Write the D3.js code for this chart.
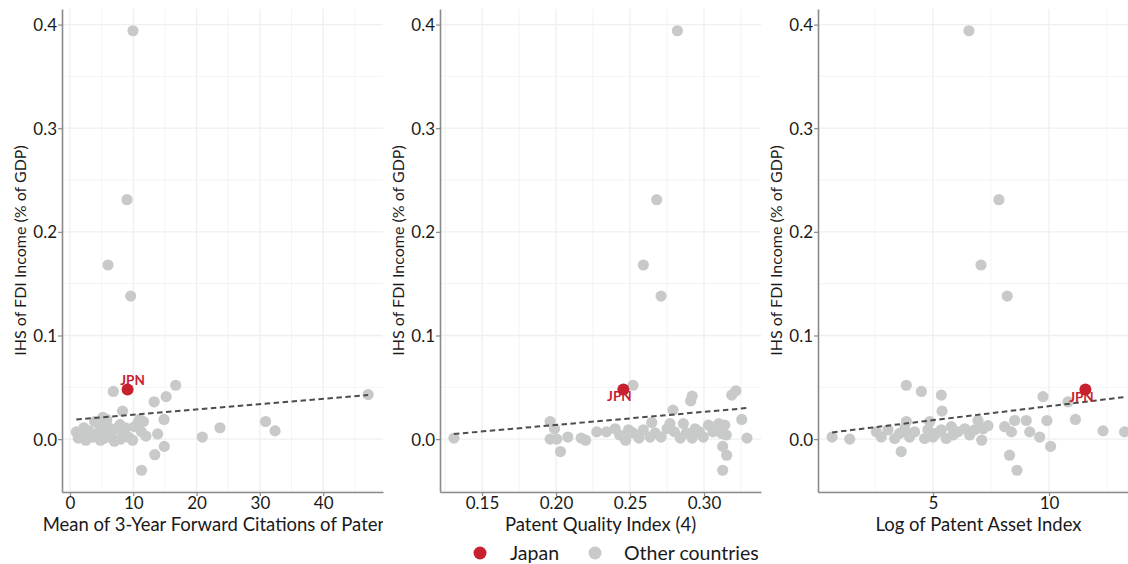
<!DOCTYPE html>
<html>
<head>
<meta charset="utf-8">
<script src="https://cdn.jsdelivr.net/npm/d3@7"></script>
<style>
  html, body { margin: 0; padding: 0; background: #fff; }
  svg { display: block; font-family: Lato, "Open Sans", sans-serif; }
</style>
</head>
<body>
<svg id="chart" width="1128" height="564"></svg>
<script>
// FDI income (IHS, % of GDP) against three patent measures, one panel each.
// Each pair is [patent measure, IHS of FDI income].

const citationsOther = [
  [9.95, 0.394], [9.0, 0.231], [6.0, 0.168], [9.6, 0.138],
  [6.85, 0.046], [16.7, 0.052], [15.2, 0.041], [13.3, 0.036], [8.3, 0.027],
  [14.85, 0.019], [5.2, 0.021], [13.85, 0.005], [14.9, -0.007], [13.4, -0.015],
  [11.3, -0.030], [20.9, 0.002], [23.7, 0.011], [30.9, 0.017], [32.4, 0.008],
  [47.1, 0.043],
  [1.0, 0.007], [1.3, 0.001], [2.0, 0.004], [2.5, -0.001], [3.0, 0.008],
  [3.6, 0.002], [4.2, 0.005], [4.6, 0.014], [5.1, 0.009], [5.5, 0.001],
  [6.0, 0.012], [6.5, 0.004], [7.0, -0.002], [7.3, 0.010], [7.9, 0.014],
  [8.4, 0.006], [8.8, 0.011], [9.2, 0.002], [9.9, -0.001], [10.2, 0.012],
  [10.8, 0.016], [11.3, 0.007], [11.6, 0.017], [12.0, 0.003], [11.0, 0.019],
  [3.9, 0.017], [5.8, 0.019], [2.2, 0.011], [4.8, -0.001], [8.0, 0.000]
];
const citationsJapan = [9.1, 0.048];
const citationsFit = [[1.0, 0.019], [47.1, 0.0425]];

const qualityOther = [
  [0.282, 0.394], [0.268, 0.231], [0.259, 0.168], [0.271, 0.138],
  [0.131, 0.001], [0.196, 0.017], [0.199, 0.010], [0.196, 0.000], [0.2005, 0.000],
  [0.203, -0.012], [0.208, 0.002], [0.217, 0.001], [0.220, -0.001], [0.2275, 0.007],
  [0.252, 0.052], [0.292, 0.0415], [0.291, 0.037], [0.3216, 0.0467], [0.3187, 0.0425],
  [0.279, 0.028], [0.3255, 0.019], [0.329, 0.001], [0.3126, -0.007], [0.3153, -0.0155],
  [0.3126, -0.030], [0.2647, 0.016],
  [0.234, 0.007], [0.240, 0.010], [0.243, 0.004], [0.247, -0.001], [0.249, 0.009],
  [0.252, 0.006], [0.256, 0.001], [0.259, 0.009], [0.2635, 0.002], [0.267, 0.006],
  [0.271, 0.002], [0.275, 0.010], [0.277, 0.015], [0.280, 0.007], [0.284, 0.001],
  [0.286, 0.015], [0.288, 0.006], [0.292, 0.001], [0.294, 0.010], [0.297, 0.007],
  [0.2995, 0.002], [0.303, 0.0135], [0.306, 0.007], [0.310, 0.015], [0.312, 0.0055],
  [0.314, 0.0135], [0.315, 0.004]
];
const qualityJapan = [0.2455, 0.048];
const qualityFit = [[0.131, 0.005], [0.329, 0.030]];

const assetOther = [
  [6.55, 0.394], [7.84, 0.231], [7.07, 0.168], [8.2, 0.138],
  [0.65, 0.002], [1.41, 0.000], [3.85, 0.052], [4.50, 0.046], [5.36, 0.0425],
  [5.39, 0.027], [3.63, -0.012], [3.85, 0.017], [4.86, 0.017], [9.74, 0.041],
  [10.82, 0.036], [11.14, 0.019], [12.33, 0.008], [13.26, 0.007], [10.07, -0.007],
  [8.30, -0.0155], [8.62, -0.030],
  [2.56, 0.007], [2.77, 0.002], [3.06, 0.009], [3.35, 0.0006], [3.56, 0.0055],
  [3.78, 0.010], [3.99, 0.002], [4.21, 0.007], [4.64, 0.0006], [4.78, 0.009],
  [5.0, 0.002], [5.14, 0.0055], [5.36, 0.009], [5.57, 0.0006], [5.79, 0.012],
  [5.86, 0.004], [6.08, 0.007], [6.37, 0.010], [6.58, 0.004], [6.80, 0.009],
  [6.94, 0.018], [7.1, -0.001], [7.16, 0.010], [7.37, 0.013], [8.09, 0.012],
  [8.38, 0.007], [8.52, 0.018], [9.02, 0.018], [9.17, 0.007], [9.6, 0.002],
  [9.91, 0.018]
];
const assetJapan = [11.57, 0.048];
const assetFit = [[0.65, 0.0065], [13.26, 0.0406]];

const xTitles = [
  "Mean of 3-Year Forward Citations of Patents",
  "Patent Quality Index (4)",
  "Log of Patent Asset Index"
];
const yTitle = "IHS of FDI Income (% of GDP)";
const yTicks = [0.0, 0.1, 0.2, 0.3, 0.4];
const yMinor = [-0.05, 0.05, 0.15, 0.25, 0.35];
const citationsTicks = [0, 10, 20, 30, 40];
const citationsMinor = [5, 15, 25, 35, 45];
const qualityTicks = [0.15, 0.20, 0.25, 0.30];
const qualityMinor = [0.125, 0.175, 0.225, 0.275, 0.325];
const assetTicks = [5, 10];
const assetMinor = [2.5, 7.5, 12.5];
const legendLabels = ["Japan", "Other countries"];

const RED = "#c8202f";
const GREY = "#c7cac9";
const AXIS = "#8a8a8a";
const GRID = "#efefef";
const TEXT = "#1a1a1a";

const svg = d3.select("#chart");
const plotTop = 9, plotBottom = 492;

const panels = [
  { left: 62, right: 383, domain: [-1.26, 49.45], ticks: citationsTicks, minor: citationsMinor,
    fmt: d3.format("d"), other: citationsOther, japan: citationsJapan, fit: citationsFit,
    labelDx: 5, labelDy: -4, clipRight: 383 },
  { left: 440, right: 761, domain: [0.1216, 0.3385], ticks: qualityTicks, minor: qualityMinor,
    fmt: d3.format(".2f"), other: qualityOther, japan: qualityJapan, fit: qualityFit,
    labelDx: -4, labelDy: 12, clipRight: 766 },
  { left: 818, right: 1139, domain: [0.043, 13.88], ticks: assetTicks, minor: assetMinor,
    fmt: d3.format("d"), other: assetOther, japan: assetJapan, fit: assetFit,
    labelDx: -4, labelDy: 13, clipRight: 1128 }
];

const defs = svg.append("defs");

panels.forEach((p, i) => {
  const x = d3.scaleLinear().domain(p.domain).range([p.left, p.right]);
  const y = d3.scaleLinear().domain([-0.051, 0.415]).range([plotBottom, plotTop]);
  const g = svg.append("g");

  // grid: minor then major
  const grid = g.append("g");
  grid.selectAll(".hmin").data(yMinor).join("line")
    .attr("x1", p.left).attr("x2", p.right)
    .attr("y1", d => y(d)).attr("y2", d => y(d))
    .attr("stroke", GRID).attr("stroke-width", 0.7);
  grid.selectAll(".vmin").data(p.minor.filter(d => x(d) > p.left && x(d) < p.right)).join("line")
    .attr("x1", d => x(d)).attr("x2", d => x(d))
    .attr("y1", plotTop).attr("y2", plotBottom)
    .attr("stroke", GRID).attr("stroke-width", 0.7);
  grid.selectAll(".hmaj").data(yTicks).join("line")
    .attr("x1", p.left).attr("x2", p.right)
    .attr("y1", d => y(d)).attr("y2", d => y(d))
    .attr("stroke", GRID).attr("stroke-width", 1.3);
  grid.selectAll(".vmaj").data(p.ticks).join("line")
    .attr("x1", d => x(d)).attr("x2", d => x(d))
    .attr("y1", plotTop).attr("y2", plotBottom)
    .attr("stroke", GRID).attr("stroke-width", 1.3);

  // axes
  const yAxis = g.append("g").attr("transform", `translate(${p.left},0)`)
    .call(d3.axisLeft(y).tickValues(yTicks).tickFormat(d3.format(".1f")).tickSize(4).tickSizeOuter(0));
  const xAxis = g.append("g").attr("transform", `translate(0,${plotBottom})`)
    .call(d3.axisBottom(x).tickValues(p.ticks).tickFormat(p.fmt).tickSize(4).tickSizeOuter(0));
  [yAxis, xAxis].forEach(a => {
    a.select(".domain").attr("stroke", AXIS).attr("stroke-width", 1.6);
    a.selectAll(".tick line").attr("stroke", AXIS).attr("stroke-width", 1.2);
    a.selectAll(".tick text").attr("fill", TEXT).attr("font-size", 17)
      .attr("font-family", "Lato, sans-serif");
  });
  yAxis.selectAll(".tick text").attr("x", -5).attr("dy", "0.35em");
  xAxis.selectAll(".tick text").attr("y", 4).attr("dy", "0.76em");

  // points
  g.append("g").selectAll("circle").data(p.other).join("circle")
    .attr("cx", d => x(d[0])).attr("cy", d => y(d[1])).attr("r", 5.6)
    .attr("fill", GREY);

  // fitted line
  g.append("path").datum(p.fit)
    .attr("d", d3.line().x(d => x(d[0])).y(d => y(d[1])))
    .attr("fill", "none").attr("stroke", "#4d4d4d")
    .attr("stroke-width", 2).attr("stroke-dasharray", "5.5,3.5");

  g.append("circle").attr("cx", x(p.japan[0])).attr("cy", y(p.japan[1]))
    .attr("r", 6).attr("fill", RED);
  g.append("text").attr("x", x(p.japan[0]) + p.labelDx).attr("y", y(p.japan[1]) + p.labelDy)
    .attr("text-anchor", "middle").attr("font-size", 13.5).attr("font-weight", "bold")
    .attr("fill", RED).text("JPN");

  // titles
  g.append("text")
    .attr("transform", `translate(${p.left - 42},${(plotTop + plotBottom) / 2}) rotate(-90)`)
    .attr("text-anchor", "middle").attr("dy", "0.35em")
    .attr("font-size", 16).attr("fill", TEXT).text(yTitle);

  const clipId = "clip-x-" + i;
  defs.append("clipPath").attr("id", clipId).append("rect")
    .attr("x", p.left - 60).attr("y", 500).attr("width", p.clipRight - (p.left - 60)).attr("height", 40);
  g.append("text")
    .attr("x", (p.left + p.right) / 2).attr("y", 531)
    .attr("text-anchor", "middle").attr("font-size", 18.5).attr("fill", TEXT)
    .attr("clip-path", `url(#${clipId})`)
    .text(xTitles[i]);
});

// legend
const legend = svg.append("g");
const legendItems = [
  { label: legendLabels[0], color: RED, cx: 480, tx: 510 },
  { label: legendLabels[1], color: GREY, cx: 595, tx: 624 }
];
legendItems.forEach(it => {
  legend.append("circle").attr("cx", it.cx).attr("cy", 553).attr("r", 6.5).attr("fill", it.color);
  legend.append("text").attr("x", it.tx).attr("y", 553).attr("dy", "0.35em")
    .attr("font-size", 19.5).attr("fill", TEXT).text(it.label);
});
</script>
</body>
</html>
